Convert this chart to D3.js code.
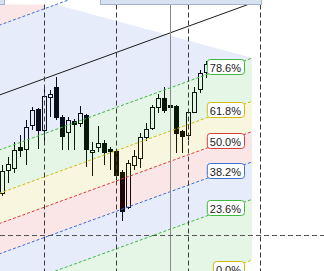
<!DOCTYPE html>
<html>
<head>
<meta charset="utf-8">
<script src="https://cdn.jsdelivr.net/npm/d3@7"></script>
<style>
  html, body { margin: 0; padding: 0; background: #fff; }
  svg { display: block; }
</style>
</head>
<body>
<svg id="chart"></svg>
<script>
// candles (bar index = position in arrays)
const opens  = [87.8, 90.1, 90.3, 92.4, 92.2, 94.6, 96.2, 94.1, 97.4, 98.4, 95.4, 93.9, 95.0, 94.8, 95.6, 91.9, 92.4, 92.8, 92.2, 92.0, 89.9, 86.4, 90.6, 91.3, 93.4, 94.3, 96.4, 97.3, 96.6, 96.5, 94.0, 93.6, 95.9, 98.2, 99.9]
const highs  = [90.6, 91.4, 92.9, 93.6, 95.1, 96.4, 96.3, 98.4, 98.1, 99.4, 95.6, 95.4, 95.2, 96.5, 95.7, 92.9, 94.5, 93.1, 92.4, 92.1, 90.1, 91.1, 92.1, 93.8, 94.8, 96.6, 97.7, 98.4, 96.9, 96.6, 94.1, 96.1, 98.4, 100.1, 101.0]
const lows   = [87.5, 88.8, 89.8, 91.4, 90.6, 94.1, 92.2, 92.6, 95.4, 95.1, 92.1, 92.1, 92.1, 94.4, 90.4, 89.5, 91.9, 90.6, 90.1, 89.1, 85.0, 86.2, 90.1, 90.3, 93.0, 94.1, 95.8, 95.8, 95.8, 91.8, 91.8, 93.1, 95.8, 97.8, 99.3]
const closes = [90.0, 90.7, 92.1, 92.1, 94.4, 96.1, 94.1, 97.5, 97.7, 95.4, 93.5, 95.1, 94.7, 95.8, 92.2, 92.1, 92.8, 91.9, 92.0, 89.6, 86.0, 90.8, 91.5, 93.4, 94.2, 96.4, 97.3, 96.1, 96.4, 93.8, 93.5, 95.9, 97.9, 99.8, 100.7]

// fib channel
const fibLevels = [0, 0.236, 0.382, 0.5, 0.618, 0.786, 1, 1.272, 1.618]
const fibLabels = ['0.0%', '23.6%', '38.2%', '50.0%', '61.8%', '78.6%', '', '', '']
const fibColors = ['#cdbb12', '#3fb83f', '#3b6fd2', '#d93b3b', '#cdbb12', '#3fb83f', '#3b6fd2', '#3b6fd2', '#d93b3b']
const channelBars = [-6, 41.7]
const channelBase = [70.68, 81.1]
const channelRange = 25.7

const gridBars = [7, 19, 31, 43]
const cursorBar = 28
const cursorPrice = 83.6

const width = 324
const height = 271
const topY = 4.5

const x = d3.scaleLinear().domain([0, 34]).range([2, 206])
const y = d3.scaleLinear().domain([80, 107.1]).range([height, 0])

const svg = d3.select('#chart').attr('width', width).attr('height', height)

const bars = d3.range(opens.length).map((i) => ({
  i, o: opens[i], h: highs[i], l: lows[i], c: closes[i],
}))

// candles
const candle = svg.append('g')
candle.selectAll('line')
  .data(bars)
  .join('line')
  .attr('x1', (d) => Math.round(x(d.i)) + 0.5)
  .attr('x2', (d) => Math.round(x(d.i)) + 0.5)
  .attr('y1', (d) => Math.round(y(d.h)))
  .attr('y2', (d) => Math.round(y(d.l)))
  .attr('stroke', '#000')
  .attr('stroke-width', 1)
candle.selectAll('rect')
  .data(bars)
  .join('rect')
  .attr('x', (d) => Math.round(x(d.i)) - 1.5)
  .attr('width', 4)
  .attr('y', (d) => Math.round(y(Math.max(d.o, d.c))) + 0.5)
  .attr('height', (d) => Math.max(1, Math.round(y(Math.min(d.o, d.c))) - Math.round(y(Math.max(d.o, d.c)))))
  .attr('fill', (d) => (d.c >= d.o ? '#fff' : '#000'))
  .attr('stroke', '#000')
  .attr('stroke-width', 1)

// channel geometry
const slope = (channelBase[1] - channelBase[0]) / (channelBars[1] - channelBars[0])
const levelPrice = (lvl, bar) => channelBase[0] + (bar - channelBars[0]) * slope + lvl * channelRange
const lvlY = (lvl, bar) => y(levelPrice(lvl, bar))
const x0 = x(channelBars[0])
const x1 = x(channelBars[1])

// clip for the fills
const lvl127 = fibLevels[7]
const gx = Math.round(x(gridBars[0]))
const ya = lvlY(lvl127, channelBars[0])
const yb = lvlY(lvl127, channelBars[1])
const cutX = x0 + (x1 - x0) * (topY - ya) / (yb - ya)
const clipPts = [
  [x0, topY], [gx, topY], [gx, lvlY(lvl127, x.invert(gx))], [cutX, topY],
  [x1, lvlY(fibLevels[5], channelBars[1])], [x1, height + 200], [x0, height + 200],
]
svg.append('clipPath').attr('id', 'fillclip')
  .append('polygon').attr('points', clipPts.map((p) => p.join(',')).join(' '))

// band fills
const bands = d3.range(1, fibLevels.length).map((k) => ({ lo: fibLevels[k - 1], hi: fibLevels[k], color: fibColors[k] }))
bands[5].color = fibColors[6]
svg.append('g')
  .attr('clip-path', 'url(#fillclip)')
  .selectAll('polygon')
  .data(bands)
  .join('polygon')
  .attr('points', (d) => [
    [x0, lvlY(d.lo, channelBars[0])], [x1, lvlY(d.lo, channelBars[1])],
    [x1, lvlY(d.hi, channelBars[1])], [x0, lvlY(d.hi, channelBars[0])],
  ].map((p) => p.join(',')).join(' '))
  .attr('fill', (d) => d.color)
  .attr('fill-opacity', 0.13)

// fib lines
const lines = fibLevels.map((lvl, k) => ({ lvl, k }))
svg.append('g')
  .selectAll('line')
  .data(lines.filter((d) => d.lvl <= 1.272))
  .join('line')
  .attr('x1', x0)
  .attr('x2', x1)
  .attr('y1', (d) => lvlY(d.lvl, channelBars[0]))
  .attr('y2', (d) => lvlY(d.lvl, channelBars[1]))
  .attr('stroke', (d) => (d.lvl === 1 ? '#1b1b1b' : fibColors[d.k]))
  .attr('stroke-width', 1)
  .attr('stroke-dasharray', (d) => (d.lvl === 1 ? null : '3,2'))

// grid / cursor
svg.append('g')
  .selectAll('line')
  .data(gridBars)
  .join('line')
  .attr('x1', (d) => Math.round(x(d)) + 0.5)
  .attr('x2', (d) => Math.round(x(d)) + 0.5)
  .attr('y1', topY)
  .attr('y2', height)
  .attr('stroke', '#3a3a3a')
  .attr('stroke-dasharray', '5,3')

svg.append('line')
  .attr('x1', Math.round(x(cursorBar)) + 0.5)
  .attr('x2', Math.round(x(cursorBar)) + 0.5)
  .attr('y1', topY)
  .attr('y2', height)
  .attr('stroke', '#888')

svg.append('line')
  .attr('x1', 0)
  .attr('x2', width)
  .attr('y1', Math.round(y(cursorPrice)) + 0.5)
  .attr('y2', Math.round(y(cursorPrice)) + 0.5)
  .attr('stroke', '#555')
  .attr('stroke-dasharray', '5,3')

// level labels
const labelRight = 244
const label = svg.append('g')
  .selectAll('g')
  .data(lines.filter((d) => fibLabels[d.k]))
  .join('g')
  .attr('transform', (d) => `translate(0, ${Math.round(lvlY(d.lvl, channelBars[1])) + 1.5})`)
label.append('rect')
label.append('text')
  .text((d) => fibLabels[d.k])
  .attr('x', labelRight - 3)
  .attr('y', 12)
  .attr('text-anchor', 'end')
  .attr('font-family', 'Liberation Sans, Arial, sans-serif')
  .attr('font-size', 11)
  .attr('fill', '#1a1a1a')
label.each(function () {
  const g = d3.select(this)
  const w = g.select('text').node().getComputedTextLength() + 6
  g.select('rect')
    .attr('x', labelRight - w + 0.5)
    .attr('y', 0)
    .attr('width', w)
    .attr('height', 15)
    .attr('rx', 3)
    .attr('fill', '#fff')
    .attr('stroke', (d) => fibColors[d.k])
    .attr('stroke-width', 1)
})

// top strip
svg.append('rect').attr('x', -1).attr('y', -1).attr('width', 5.5).attr('height', 5.5)
  .attr('fill', '#d7e2f1').attr('stroke', '#a3b4cb')
svg.append('rect').attr('x', 100.5).attr('y', -1).attr('width', 161).attr('height', 5.5)
  .attr('fill', '#d7e2f1').attr('stroke', '#a3b4cb')
</script>
</body>
</html>
